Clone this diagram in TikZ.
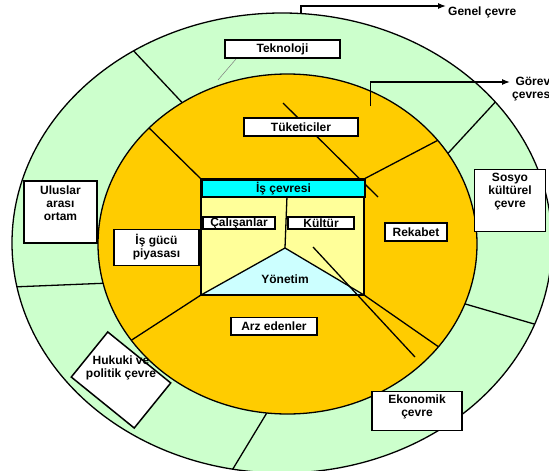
\documentclass[tikz,border=0pt]{standalone}
\usepackage{fontspec}
\setmainfont{Liberation Sans}
\usetikzlibrary{arrows.meta}
\definecolor{ringgreen}{HTML}{CCFFCC}
\definecolor{coreorange}{HTML}{FFCC00}
\definecolor{paleyellow}{HTML}{FFFF99}
\definecolor{bandcyan}{HTML}{00FFFF}
\definecolor{palecyan}{HTML}{CCFFFF}
\begin{document}
\begin{tikzpicture}[x=1pt,y=-1pt,
  lbl/.style={font=\fontsize{12}{13}\selectfont\bfseries, align=center, inner sep=0pt},
  box/.style={draw, fill=white, line width=1.5pt, inner sep=0pt, lbl},
  divider/.style={line width=1.3pt},
  conn/.style={line width=1.3pt, -{Latex[length=8pt,width=6pt]}}]
\useasboundingbox (0,0) rectangle (549,471);
\clip (0,0) rectangle (549,471);

% general environment ring
\draw[fill=ringgreen, line width=1.3pt] (282,243) ellipse [x radius=270pt, y radius=230pt];
\begin{scope}
  \clip (282,243) ellipse [x radius=270pt, y radius=230pt];
  \draw[divider] (130,47) -- (190,111);
  \draw[divider] (499,98) -- (440,162);
  \draw[divider] (12,287) -- (110,283);
  \draw[divider] (541,326) -- (455,301);
  \draw[divider] (228,477) -- (271,406);
\end{scope}

% task environment
\draw[fill=coreorange, line width=1.3pt] (287.5,244) ellipse [x radius=189.5pt, y radius=170pt];
\begin{scope}
  \clip (287.5,244) ellipse [x radius=189.5pt, y radius=170pt];
  \draw[divider] (201,179) -- (141,120);
  \draw[divider] (364,179) -- (446,136);
  \draw[divider] (201,295) -- (124,345);
  \draw[divider] (364,295) -- (446,352);
\end{scope}
\draw[divider] (283,103) -- (378,197);

% business environment core
\draw[fill=paleyellow, line width=2pt] (201,179) rectangle (364,295);
\draw[line width=1.3pt] (287,196) -- (285,248);
\draw[fill=palecyan, line width=1.3pt] (201,295) -- (285,248) -- (364,295) -- cycle;
\draw[line width=2pt] (201,179) rectangle (364,295);
\node[draw, fill=bandcyan, line width=2pt, minimum width=163pt, minimum height=17pt, lbl, anchor=north west] (isc) at (201,179) {İş çevresi};
\node[lbl] (yon) at (285,279) {Yönetim};
\draw[divider] (313,247) -- (415,357);

% labelled boxes
\node[box, minimum width=115pt, minimum height=18pt] (tek) at (282.5,49) {Teknoloji};
\node[box, minimum width=114pt, minimum height=18pt] (tuk) at (301,127) {Tüketiciler};
\node[box, minimum width=73pt, minimum height=62pt] (ulu) at (60.5,212) {};
\node[lbl] (ulut) at (60.5,203) {Uluslar\\arası\\ortam};
\node[box, minimum width=85pt, minimum height=36pt] (isg) at (156.5,247.5) {İş gücü\\piyasası};
\node[box, minimum width=62pt, minimum height=18pt] (rek) at (416,232) {Rekabet};
\node[box, minimum width=71pt, minimum height=62pt] (sos) at (510,200.5) {};
\node[lbl] (sost) at (510,191.5) {Sosyo\\kültürel\\çevre};
\node[box, minimum width=86pt, minimum height=17.5pt] (arz) at (274,326) {Arz edenler};
\node[box, minimum width=90pt, minimum height=39pt] (eko) at (417,411) {};
\node[lbl] (ekot) at (417,407) {Ekonomik\\çevre};
\node[box, minimum width=72pt, minimum height=12pt] (cal) at (239,223) {Çalışanlar};
\node[box, minimum width=66pt, minimum height=12pt] (kul) at (321,223) {Kültür};
\node[draw, fill=white, line width=1.5pt, minimum width=81pt, minimum height=58pt, rotate=-39] (huk) at (121,380) {};
\node[lbl] (hukt) at (121,368) {Hukuki ve\\politik çevre};

% pointer from the technology box
\coordinate (tekp) at (218,80);
\draw[gray, line width=0.5pt] (236,59) -- (tekp);

% outer labels with arrows
\coordinate (gtop) at (301,14);
\coordinate (gend) at (446,6);
\node[lbl, anchor=west] (gen) at (448,12) {Genel çevre};
\draw[conn] (gtop) |- (gend);
\coordinate (ttop) at (370.5,106);
\coordinate (tend) at (510,82);
\node[lbl, anchor=west] (gor) at (512,89) {Görev\\çevresi};
\draw[conn] (ttop) |- (tend);
\end{tikzpicture}
\end{document}
